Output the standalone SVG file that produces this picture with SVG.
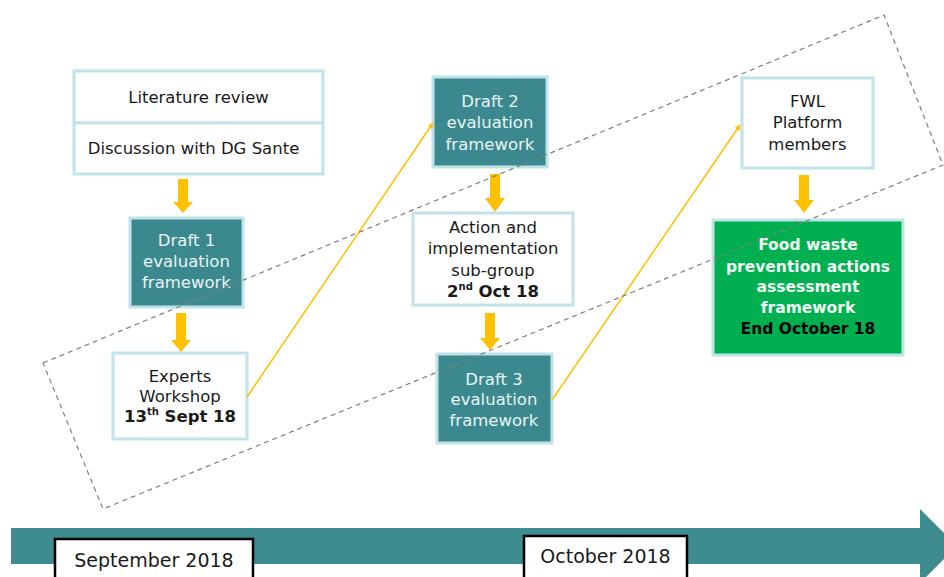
<svg xmlns="http://www.w3.org/2000/svg" width="944" height="577" viewBox="0 0 944 577">
<defs>
<style>
.box{fill:#ffffff;stroke:#bfe3e8;stroke-width:3}
.teal{fill:#3b898e;stroke:#bfe3e8;stroke-width:3}
.green{fill:#00b050;stroke:#bfe3e8;stroke-width:3}
.t{font-family:"DejaVu Sans",Verdana,sans-serif;font-size:16.5px;fill:#1a1a1a;text-anchor:middle}
.tw{fill:#e8f4f4}
.b{font-weight:bold}
.gb{font-family:"DejaVu Sans",Verdana,sans-serif;font-size:15.5px;font-weight:bold;fill:#f2fbf5;text-anchor:middle}
.blk{fill:#000000}
.sup{font-size:10px}
.barrow{fill:#ffc000}
.link{stroke:#ffc000;stroke-width:1.5;fill:none;marker-end:url(#ah)}
.lbl{fill:#ffffff;stroke:#000000;stroke-width:2.5}
.lt{font-family:"DejaVu Sans",Verdana,sans-serif;font-size:19px;fill:#1a1a1a;text-anchor:middle}
</style>
<marker id="ah" viewBox="0 0 10 10" refX="9" refY="5" markerWidth="6" markerHeight="6" orient="auto" markerUnits="userSpaceOnUse">
<path d="M0,0 L10,5 L0,10 Z" fill="#ffc000"/>
</marker>
</defs>

<g id="timeline">
<path d="M11,528 H920 V509 L957,546 L920,583 V564 H11 Z" fill="#3e8b90"/>
<rect class="lbl" x="55" y="539" width="198" height="42"/>
<text class="lt" x="154" y="567">September 2018</text>
<rect class="lbl" x="524" y="536" width="163" height="45"/>
<text class="lt" x="605.5" y="563">October 2018</text>
</g>

<g id="n-literature">
<rect class="box" x="74" y="71" width="249" height="52"/>
<text class="t" x="198.5" y="103">Literature review</text>
</g>
<g id="n-discussion">
<rect class="box" x="74" y="123" width="249" height="51"/>
<text class="t" x="193.5" y="154">Discussion with DG Sante</text>
</g>

<g id="n-draft1">
<rect class="teal" x="130" y="218" width="113" height="89"/>
<text class="t tw" x="186.5" y="246">Draft 1</text>
<text class="t tw" x="186.5" y="267">evaluation</text>
<text class="t tw" x="186.5" y="288">framework</text>
</g>

<g id="n-experts">
<rect class="box" x="113" y="353" width="134" height="86"/>
<text class="t" x="180" y="382">Experts</text>
<text class="t" x="180" y="402">Workshop</text>
<text class="t b" x="180" y="422">13<tspan class="sup" dy="-7">th</tspan><tspan dy="7"> Sept 18</tspan></text>
</g>

<g id="n-draft2">
<rect class="teal" x="433" y="77" width="114" height="90"/>
<text class="t tw" x="490" y="107">Draft 2</text>
<text class="t tw" x="490" y="128">evaluation</text>
<text class="t tw" x="490" y="150">framework</text>
</g>

<g id="n-action">
<rect class="box" x="413" y="213" width="160" height="92"/>
<text class="t" x="493" y="233">Action and</text>
<text class="t" x="493" y="254">implementation</text>
<text class="t" x="493" y="276">sub-group</text>
<text class="t b" x="493" y="297">2<tspan class="sup" dy="-7">nd</tspan><tspan dy="7"> Oct 18</tspan></text>
</g>

<g id="n-draft3">
<rect class="teal" x="437" y="354" width="115" height="89"/>
<text class="t tw" x="494" y="385">Draft 3</text>
<text class="t tw" x="494" y="405">evaluation</text>
<text class="t tw" x="494" y="426">framework</text>
</g>

<g id="n-fwl">
<rect class="box" x="742" y="78" width="131" height="90"/>
<text class="t" x="807.5" y="107">FWL</text>
<text class="t" x="807.5" y="128">Platform</text>
<text class="t" x="807.5" y="150">members</text>
</g>

<g id="n-final">
<rect class="green" x="713" y="220" width="190" height="135"/>
<text class="gb" x="808" y="250">Food waste</text>
<text class="gb" x="808" y="271.5">prevention actions</text>
<text class="gb" x="808" y="292">assessment</text>
<text class="gb" x="808" y="312.5">framework</text>
<text class="gb blk" x="808" y="333.5">End October 18</text>
</g>

<g id="connectors">
<path class="barrow" d="M178,179 H188 V202 H193 L183,213 L173,202 H178 Z"/>
<path class="barrow" d="M176,313 H186 V340 H191 L181,352 L171,340 H176 Z"/>
<path class="barrow" d="M490,174 H500 V198 H505 L495,212 L485,198 H490 Z"/>
<path class="barrow" d="M485,313 H495 V338 H500 L490,350 L480,338 H485 Z"/>
<path class="barrow" d="M799,175 H809 V200 H814 L804,213 L794,200 H799 Z"/>
<line class="link" x1="247" y1="397" x2="433" y2="123"/>
<line class="link" x1="552" y1="400" x2="740" y2="125"/>
</g>

<g id="group-outline">
<polygon points="43,363 884,15 943,165 103,509" fill="none" stroke="#7f7f7f" stroke-width="1.2" stroke-dasharray="5,4"/>
</g>
</svg>
